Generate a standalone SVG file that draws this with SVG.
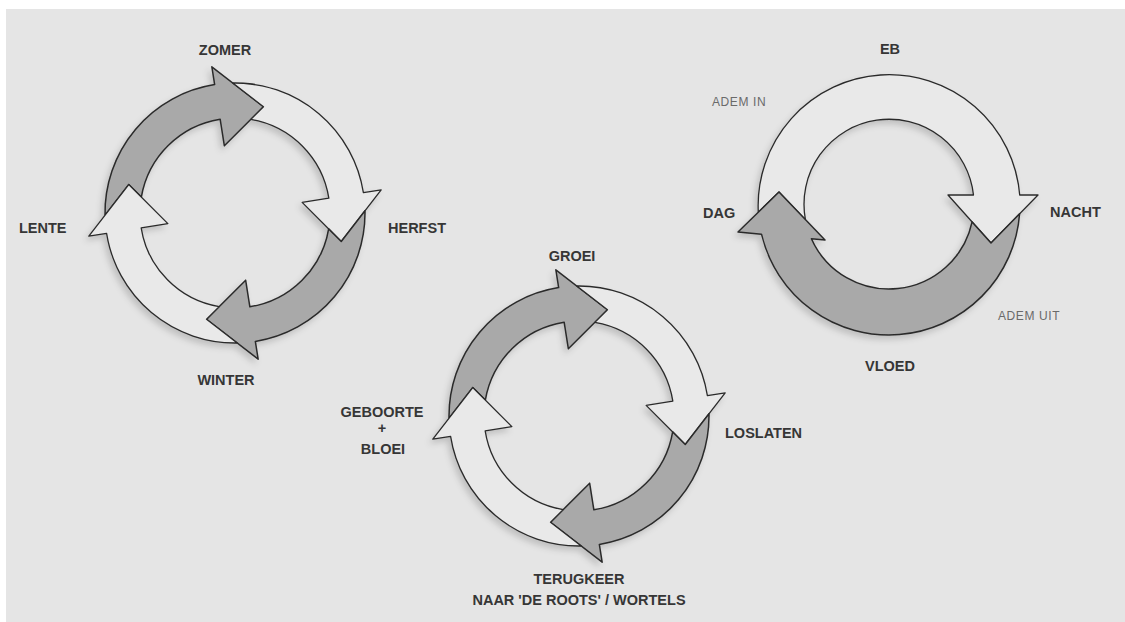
<svg xmlns="http://www.w3.org/2000/svg" xmlns:xlink="http://www.w3.org/1999/xlink" width="1125" height="622" viewBox="0 0 1125 622">
<style>
.lbl{font-family:"Liberation Sans",Arial,sans-serif;font-weight:bold;font-size:14.5px;fill:#363636}
.sm{font-family:"Liberation Sans",Arial,sans-serif;font-size:12px;fill:#6a6a6a;letter-spacing:0.6px}
.g{fill:#a9a9a9;stroke:#2b2b2b;stroke-width:1.5;stroke-linejoin:round}
.w{fill:#e9e9e9;stroke:#2b2b2b;stroke-width:1.3;stroke-linejoin:round}
</style>
<defs>
<filter id="sh" x="-20%" y="-20%" width="140%" height="140%">
<feDropShadow dx="-3" dy="4" stdDeviation="3" flood-color="#000" flood-opacity="0.16"/>
</filter>
<path id="qa" d="M -129.98 2.21 A 130 130 0 0 1 -20.34 -128.40 L -23.15 -146.18 L 28.47 -106.25 L -10.64 -67.16 L -14.86 -93.83 A 95 95 0 0 0 -93.66 -15.88 L -106.25 -28.47 Z"/>
</defs>
<rect x="0" y="0" width="1125" height="622" fill="#ffffff"/>
<rect x="6" y="9" width="1119" height="613" fill="#e5e5e5"/>

<g id="connectors">
<g id="cycle-seasons" filter="url(#sh)" transform="translate(235,213)">
<use xlink:href="#qa" href="#qa" class="g"/>
<use xlink:href="#qa" href="#qa" class="w" transform="rotate(90)"/>
<use xlink:href="#qa" href="#qa" class="g" transform="rotate(180)"/>
<use xlink:href="#qa" href="#qa" class="w" transform="rotate(270)"/>
</g>
<g id="cycle-life" filter="url(#sh)" transform="translate(579,416)">
<use xlink:href="#qa" href="#qa" class="g"/>
<use xlink:href="#qa" href="#qa" class="w" transform="rotate(90)"/>
<use xlink:href="#qa" href="#qa" class="g" transform="rotate(180)"/>
<use xlink:href="#qa" href="#qa" class="w" transform="rotate(270)"/>
</g>
<g id="cycle-tide" filter="url(#sh)">
<path class="w" d="M 758.3 212.2 A 131 131 0 0 1 1019.7 195 L 1038 195 L 991 243 L 948 195 L 973.5 195 A 85 85 0 1 0 805.4 219.6 L 779 192 Z"/>
<path class="g" d="M 1019.6 213.75 A 131 131 0 0 1 761.5 234.2 L 738 232 L 779 192 L 825 240 L 811.4 238.75 A 85 85 0 0 0 972.1 221.9 L 991 243 Z"/>
</g>
</g>

<g id="zomer"><text class="lbl" x="225" y="55" text-anchor="middle">ZOMER</text></g>
<g id="herfst"><text class="lbl" x="388" y="233">HERFST</text></g>
<g id="winter"><text class="lbl" x="226" y="385" text-anchor="middle">WINTER</text></g>
<g id="lente"><text class="lbl" x="19" y="233">LENTE</text></g>

<g id="groei"><text class="lbl" x="572" y="261" text-anchor="middle">GROEI</text></g>
<g id="loslaten"><text class="lbl" x="725" y="438">LOSLATEN</text></g>
<g id="terugkeer"><text class="lbl" x="579" y="584" text-anchor="middle">TERUGKEER</text><text class="lbl" x="579" y="605" text-anchor="middle">NAAR 'DE ROOTS' / WORTELS</text></g>
<g id="geboorte"><text class="lbl" x="382" y="417" text-anchor="middle">GEBOORTE</text><text class="lbl" x="382" y="433" text-anchor="middle">+</text><text class="lbl" x="383" y="454" text-anchor="middle">BLOEI</text></g>

<g id="eb"><text class="lbl" x="890" y="54" text-anchor="middle">EB</text></g>
<g id="adem-in"><text class="sm" x="712" y="106">ADEM IN</text></g>
<g id="dag"><text class="lbl" x="703" y="218">DAG</text></g>
<g id="nacht"><text class="lbl" x="1050" y="217">NACHT</text></g>
<g id="vloed"><text class="lbl" x="890" y="371" text-anchor="middle">VLOED</text></g>
<g id="adem-uit"><text class="sm" x="998" y="320">ADEM UIT</text></g>
</svg>
